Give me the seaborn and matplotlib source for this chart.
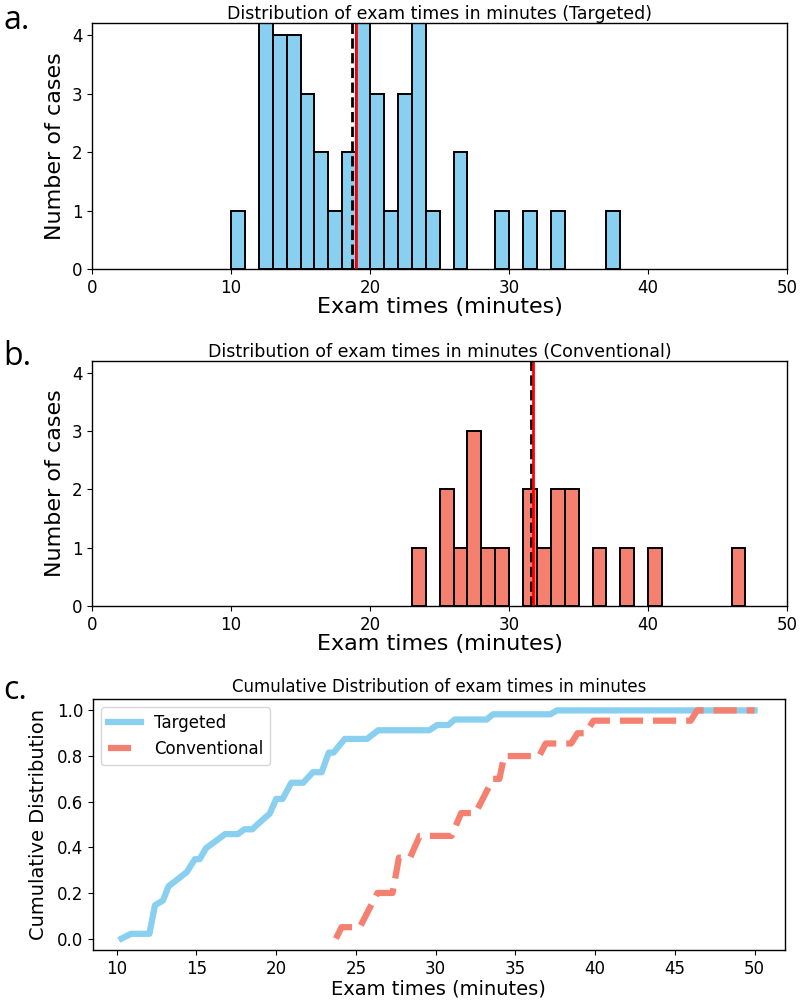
import numpy as np
import pandas as pd
import matplotlib
matplotlib.use("Agg")
import matplotlib.pyplot as plt
import seaborn as sns

# ---------------- data ----------------
# Panel a: histogram of targeted exam times, 1-minute bins (left edges)
targeted_bin_left = [10, 11, 12, 13, 14, 15, 16, 17, 18, 19, 20, 21, 22, 23, 24,
                     25, 26, 27, 28, 29, 30, 31, 32, 33, 34, 35, 36, 37]
targeted_counts = [1, 0, 7, 4, 4, 3, 2, 1, 2, 5, 3, 1, 3, 5, 1,
                   0, 2, 0, 0, 1, 0, 1, 0, 1, 0, 0, 0, 1]
targeted_median = 18.72
targeted_mean = 19.02

# Panel b: histogram of conventional exam times
conventional_bin_left = [23, 24, 25, 26, 27, 28, 29, 30, 31, 32, 33, 34, 35, 36,
                         37, 38, 39, 40, 41, 42, 43, 44, 45, 46]
conventional_counts = [1, 0, 2, 1, 3, 1, 1, 0, 2, 1, 2, 2, 0, 1,
                       0, 1, 0, 1, 0, 0, 0, 0, 0, 1]
conventional_median = 31.55
conventional_mean = 31.74

# Panel c: cumulative distribution curves (vertices)
cdf_targeted_x = [10.3, 10.9, 12.05, 12.4, 12.9, 13.25, 14.4, 14.9, 15.2, 15.6,
                  16.8, 17.6, 18.0, 18.5, 18.9, 19.6, 20.0, 20.4, 20.95, 21.7,
                  22.3, 22.85, 23.3, 23.6, 24.3, 25.7, 26.4, 29.6, 30.1, 30.8,
                  31.2, 33.2, 33.6, 37.2, 37.6, 50.0]
cdf_targeted_y = [0.0, 0.021, 0.021, 0.146, 0.167, 0.229, 0.292, 0.348, 0.348, 0.396,
                  0.458, 0.458, 0.479, 0.479, 0.505, 0.548, 0.612, 0.612, 0.683, 0.683,
                  0.729, 0.729, 0.815, 0.815, 0.875, 0.875, 0.913, 0.913, 0.936, 0.936,
                  0.960, 0.960, 0.983, 0.983, 1.0, 1.0]
cdf_conventional_x = [23.75, 24.1, 25.25, 26.35, 27.3, 27.7, 28.4, 29.0, 31.0, 31.6,
                      32.5, 33.6, 34.0, 34.3, 36.5, 36.9, 38.5, 38.9, 39.4, 39.9,
                      46.0, 46.4, 50.0]
cdf_conventional_y = [0.0, 0.05, 0.05, 0.20, 0.20, 0.355, 0.355, 0.45, 0.45, 0.55,
                      0.55, 0.70, 0.70, 0.80, 0.80, 0.855, 0.855, 0.90, 0.90, 0.955,
                      0.955, 1.0, 1.0]

series_labels = ["Targeted", "Conventional"]
panel_titles = ["Distribution of exam times in minutes (Targeted)",
                "Distribution of exam times in minutes (Conventional)",
                "Cumulative Distribution of exam times in minutes"]
panel_letters = ["a.", "b.", "c."]

# ---------------- styling ----------------
BLUE = "#89CFF0"
SALMON = "#F5806F"
plt.rcParams["font.family"] = ["DejaVu Sans"]
plt.rcParams["axes.linewidth"] = 1.0

TITLE_FS = 12.5
LABEL_FS = 16
TICK_FS = 12

fig = plt.figure(figsize=(8.0, 10.02), dpi=100)
ax_a = fig.add_axes([0.115, 0.7312, 0.869, 0.2455])
ax_b = fig.add_axes([0.115, 0.3952, 0.869, 0.2445])
ax_c = fig.add_axes([0.116, 0.0519, 0.865, 0.2505])


def draw_hist(ax, bin_left, counts, color, median, mean, title):
    centers = [float(b) + 0.5 for b in bin_left]
    sns.histplot(x=centers, weights=list(counts), binwidth=1,
                 binrange=(bin_left[0], bin_left[-1] + 1), ax=ax, color=color,
                 alpha=1.0, edgecolor="black", linewidth=1.4)
    for p in ax.patches:
        if p.get_height() == 0:
            p.set_visible(False)
    ax.axvline(median, color="black", linestyle="--", linewidth=2.0)
    ax.axvline(mean, color="red", linestyle="-", linewidth=2.0)
    ax.set_xlim(0, 50)
    ax.set_ylim(0, 4.2)
    ax.set_yticks([0, 1, 2, 3, 4])
    ax.set_xticks([0, 10, 20, 30, 40, 50])
    ax.set_title(title, fontsize=TITLE_FS, pad=3)
    ax.set_xlabel("Exam times (minutes)", fontsize=LABEL_FS, labelpad=0)
    ax.set_ylabel("Number of cases", fontsize=LABEL_FS, labelpad=5)
    ax.tick_params(labelsize=TICK_FS)


draw_hist(ax_a, targeted_bin_left, targeted_counts, BLUE,
          targeted_median, targeted_mean, panel_titles[0])
draw_hist(ax_b, conventional_bin_left, conventional_counts, SALMON,
          conventional_median, conventional_mean, panel_titles[1])

cdf_df = pd.concat([
    pd.DataFrame({"x": cdf_targeted_x, "y": cdf_targeted_y, "group": series_labels[0]}),
    pd.DataFrame({"x": cdf_conventional_x, "y": cdf_conventional_y, "group": series_labels[1]}),
], ignore_index=True)
sns.lineplot(data=cdf_df, x="x", y="y", hue="group", style="group",
             palette={series_labels[0]: BLUE, series_labels[1]: SALMON},
             dashes={series_labels[0]: "", series_labels[1]: (3.7, 1.6)},
             sort=False, estimator=None, linewidth=4.5, ax=ax_c)
ax_c.set_xticks([10, 15, 20, 25, 30, 35, 40, 45, 50])
ax_c.set_yticks([0.0, 0.2, 0.4, 0.6, 0.8, 1.0])
ax_c.set_ylim(-0.05, 1.05)
ax_c.set_xlim(8.5, 51.9)
ax_c.set_title(panel_titles[2], fontsize=12, pad=5)
ax_c.set_xlabel("Exam times (minutes)", fontsize=14, labelpad=1)
ax_c.set_ylabel("Cumulative Distribution", fontsize=14, labelpad=6)
ax_c.tick_params(labelsize=TICK_FS)
leg = ax_c.legend(loc="upper left", fontsize=12, title=None, handlelength=2.0)

for ax in (ax_a, ax_b, ax_c):
    for s in ax.spines.values():
        s.set_visible(True)
        s.set_color("black")

letter_y = [0.996, 0.661, 0.327]
for letter, y in zip(panel_letters, letter_y):
    fig.text(0.004, y, letter, fontsize=23, family=["Open Sans", "DejaVu Sans"],
             va="top", ha="left")

fig.savefig("out.png", dpi=100)
